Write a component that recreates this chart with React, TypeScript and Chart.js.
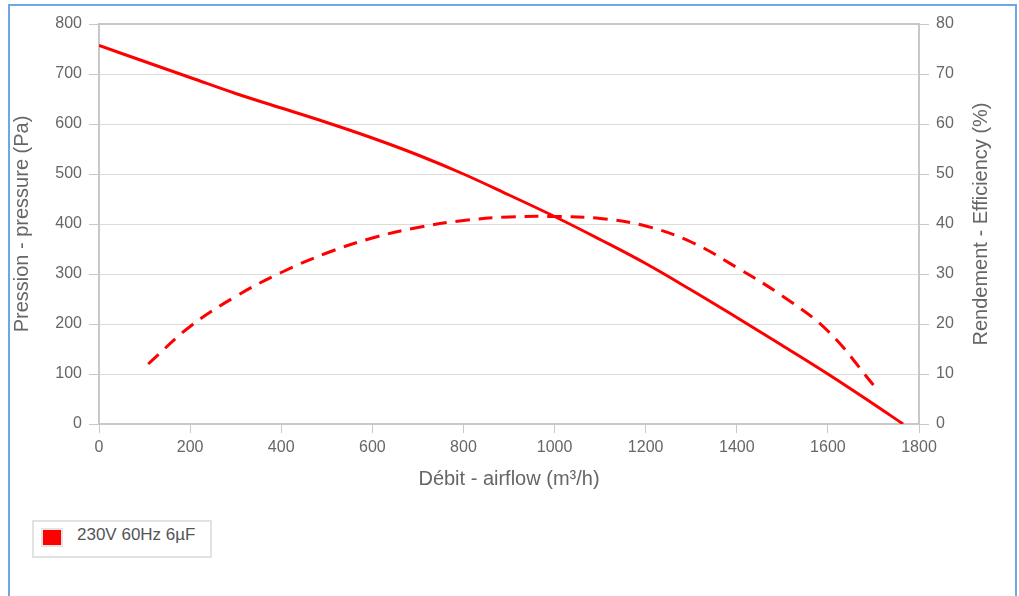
import React, { useEffect, useRef } from "react";
import { Chart, registerables } from "chart.js";

Chart.register(...registerables);

const seriesLabel = "230V 60Hz 6µF";
const pressureFlow = [0, 100, 200, 300, 400, 500, 600, 700, 800, 900, 1000, 1100, 1200, 1300, 1400, 1500, 1600, 1700, 1765];
const pressureValues = [757, 725, 693, 661, 632, 603, 572, 538, 500, 458, 415, 369, 321, 268, 213, 157, 100, 40, 0];
const efficiencyFlow = [108, 200, 300, 400, 500, 600, 700, 800, 900, 1000, 1100, 1200, 1300, 1400, 1500, 1600, 1700];
const efficiencyValues = [12, 19.5, 25.5, 30.3, 34.2, 37.2, 39.3, 40.7, 41.4, 41.5, 41.1, 39.6, 36.4, 31.3, 25.6, 18.6, 7.8];
const xTitle = "Débit - airflow (m³/h)";
const yTitle = "Pression - pressure (Pa)";
const y1Title = "Rendement - Efficiency (%)";

const FONT = "'Liberation Sans', Arial, sans-serif";
const TICK_COLOR = "#666666";
const TITLE_COLOR = "#666666";

export default function App() {
  const canvasRef = useRef<HTMLCanvasElement | null>(null);

  useEffect(() => {
    if (!canvasRef.current) return;
    const frame = {
      id: "frame",
      beforeDatasetsDraw(chart: any) {
        const { ctx, chartArea } = chart;
        ctx.save();
        ctx.strokeStyle = "#c8c8c8";
        ctx.lineWidth = 2;
        ctx.strokeRect(chartArea.left, chartArea.top, chartArea.right - chartArea.left, chartArea.bottom - chartArea.top);
        ctx.restore();
      },
      afterDraw(chart: any) {
        const { ctx, chartArea } = chart;
        const s = chart.scales.y1;
        ctx.save();
        ctx.translate(s.right - 34, (chartArea.top + chartArea.bottom) / 2);
        ctx.rotate(-Math.PI / 2);
        ctx.font = `20px ${FONT}`;
        ctx.fillStyle = TITLE_COLOR;
        ctx.textAlign = "center";
        ctx.textBaseline = "middle";
        ctx.fillText(y1Title, 0, 0);
        ctx.restore();
      },
    };
    const plain = (v: any) => String(v);
    const chart = new Chart(canvasRef.current, {
      type: "line",
      data: {
        datasets: [
          {
            label: seriesLabel,
            data: pressureFlow.map((x, i) => ({ x, y: pressureValues[i] })),
            borderColor: "#ff0000",
            backgroundColor: "#ff0000",
            borderWidth: 3,
            pointRadius: 0,
            tension: 0.4,
            yAxisID: "y",
          },
          {
            label: seriesLabel + " eff",
            data: efficiencyFlow.map((x, i) => ({ x, y: efficiencyValues[i] })),
            borderColor: "#ff0000",
            backgroundColor: "#ff0000",
            borderWidth: 3,
            borderDash: [14, 9],
            pointRadius: 0,
            tension: 0.4,
            yAxisID: "y1",
          },
        ],
      },
      options: {
        animation: false,
        responsive: true,
        maintainAspectRatio: false,
        layout: { padding: { top: 18, left: 0, right: 0, bottom: 0 } },
        plugins: { legend: { display: false }, tooltip: { enabled: false } },
        scales: {
          x: {
            type: "linear",
            min: 0,
            max: 1800,
            afterFit: (s: any) => { s.height = 72; },
            ticks: { stepSize: 200, color: TICK_COLOR, font: { family: FONT, size: 16 }, padding: 5, maxRotation: 0, callback: plain },
            grid: { drawOnChartArea: false, drawTicks: true, tickLength: 9, tickColor: "#c8c8c8" },
            border: { display: false },
            title: { display: true, text: xTitle, color: TITLE_COLOR, font: { family: FONT, size: 20 }, padding: { top: 0, bottom: 5 } },
          },
          y: {
            position: "left",
            min: 0,
            max: 800,
            afterFit: (s: any) => { s.width = 89; },
            ticks: { stepSize: 100, color: TICK_COLOR, font: { family: FONT, size: 16 }, padding: 7, callback: plain },
            grid: { color: "#dcdcdc", lineWidth: 1, tickLength: 10, tickColor: "#c8c8c8" },
            border: { display: false },
            title: { display: true, text: yTitle, color: TITLE_COLOR, font: { family: FONT, size: 20 }, padding: { top: 0, bottom: 0 } },
          },
          y1: {
            position: "right",
            min: 0,
            max: 80,
            afterFit: (s: any) => { s.width = 96; },
            ticks: { stepSize: 10, color: TICK_COLOR, font: { family: FONT, size: 16 }, padding: 7, callback: plain },
            grid: { drawOnChartArea: false, tickLength: 10, tickColor: "#c8c8c8" },
            border: { display: false },
          },
        },
      },
      plugins: [frame],
    } as any);
    return () => chart.destroy();
  }, []);

  return (
    <div
      style={{
        position: "fixed",
        left: 8,
        top: 4,
        width: 1009,
        height: 700,
        boxSizing: "border-box",
        border: "2px solid #6ea6e6",
        background: "#ffffff",
      }}
    >
      <div style={{ position: "absolute", left: 0, top: 0, width: 1005, height: 490 }}>
        <canvas ref={canvasRef} />
      </div>
      <div
        style={{
          position: "absolute",
          left: 22,
          top: 514,
          width: 180,
          height: 38,
          boxSizing: "border-box",
          border: "2px solid #e2e2e2",
          fontFamily: FONT,
          fontSize: 17,
          color: "#555555",
        }}
      >
        <div
          style={{
            position: "absolute",
            left: 7,
            top: 6,
            width: 22,
            height: 19,
            boxSizing: "border-box",
            border: "2px solid #e4e4e4",
            background: "#ff0000",
          }}
        />
        <div style={{ position: "absolute", left: 43, top: 3, whiteSpace: "nowrap", lineHeight: "20px" }}>{seriesLabel}</div>
      </div>
    </div>
  );
}
